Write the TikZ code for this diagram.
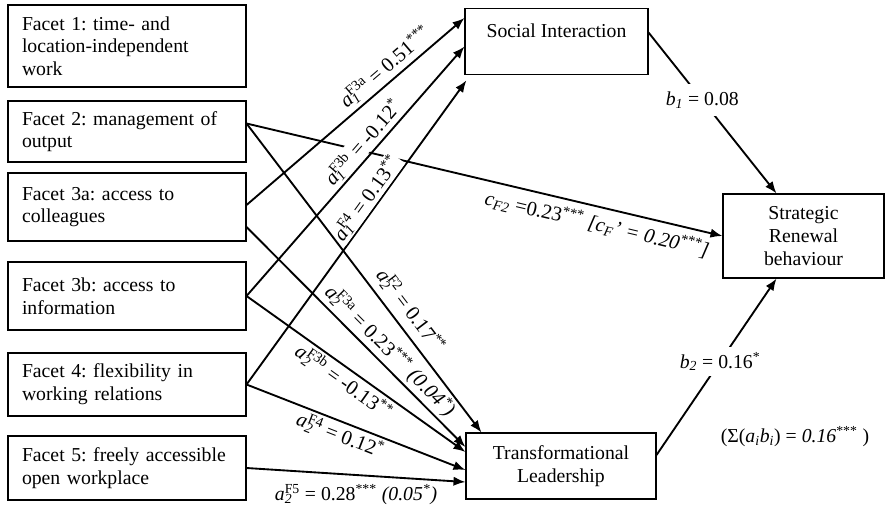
\documentclass[tikz,border=0pt]{standalone}
\usepackage{fontspec}
\setmainfont{Liberation Serif}
\usetikzlibrary{arrows.meta,calc}
\newcommand\coef[3]{\textit{#1}\rlap{\textsubscript{\textit{#2}}}\textsuperscript{#3}}
\newcommand\sig[1]{\textsuperscript{#1}}
\frenchspacing
\begin{document}
\begin{tikzpicture}[x=0.75pt,y=-0.75pt,
    every node/.style={font=\fontsize{14.8}{17}\selectfont},
    facet/.style={draw,line width=0.8pt,text width=157.5pt,align=left,inner xsep=10.5pt,inner ysep=0pt},
    box/.style={draw,line width=0.8pt,align=center,inner sep=0pt},
    link/.style={line width=1.4pt,-{Latex[length=9pt,width=7pt]}},
    lab/.style={sloped,inner sep=1pt,font=\fontsize{15.4}{17}\selectfont},
    labw/.style={lab,fill=white}]
  \useasboundingbox (0,0) rectangle (885,507);
  % facets
  \node[facet,minimum height=61.5pt] (f1) at (127,46) {Facet 1: time- and\\location-independent\\work};
  \node[facet,minimum height=45.75pt] (f2) at (127,131.5) {Facet 2: management of\\output};
  \node[facet,minimum height=51pt] (f3a) at (127,207) {Facet 3a: access to\\colleagues};
  \node[facet,minimum height=51pt] (f3b) at (127,296) {Facet 3b: access to\\information};
  \node[facet,minimum height=47.25pt] (f4) at (127,384.5) {Facet 4: flexibility in\\working relations};
  \node[facet,minimum height=48pt] (f5) at (127,468) {Facet 5: freely accessible\\open workplace};
  % mediators and outcome
  \node[box,minimum width=137.25pt,minimum height=50pt,text height=10pt,text depth=16pt] (si) at (556.5,41.5) {Social Interaction};
  \node[box,minimum width=142.5pt,minimum height=49.5pt] (tl) at (561,466) {Transformational\\Leadership};
  \node[box,minimum width=120.75pt,minimum height=63pt] (srb) at (803.5,236) {Strategic\\Renewal\\behaviour};
  % direct path
  \draw[link] ($(f2.east)+(0,-8)$) -- (srb.west)
    node[lab,pos=0.745,below=4pt] {\textit{c}\textsubscript{\textit{F2}} =0.23\sig{***} \textit{[c\textsubscript{F}' = 0.20\sig{***}]}};
  % a1 paths
  \draw[link] ($(f3a.east)+(0,-2)$) -- ($(si.west)+(0,-23.5)$)
    node[labw,pos=0.68,above=2pt] {\coef{a}{1}{F3a} = 0.51\sig{***}};
  \draw[link] (f3b.east) -- ($(si.west)+(0,5)$)
    node[labw,pos=0.58,above=1pt] {\coef{a}{1}{F3b} = -0.12\sig{*}};
  \draw[link] (f4.east) -- ($(si.south west)+(2,5)$)
    node[labw,pos=0.59,above=0pt] {\coef{a}{1}{F4} = 0.13\sig{**}};
  % a2 paths
  \draw[link] ($(f2.east)+(0,-8)$) -- ($(tl.north west)+(16,0)$)
    node[lab,pos=0.64,above=4pt] {\coef{a}{2}{F2} = 0.17\sig{**}};
  \draw[link] ($(f3a.east)+(0,20)$) -- ($(tl.west)+(0,-19)$)
    node[lab,pos=0.61,above=1pt] {\coef{a}{2}{F3a} = 0.23\sig{***} \textit{(0.04\sig{*})}};
  \draw[link] (f3b.east) -- ($(tl.west)+(0,-14)$)
    node[lab,pos=0.48,below=1pt] {\coef{a}{2}{F3b} = -0.13\sig{**}};
  \draw[link] (f4.east) -- ($(tl.west)+(0,4)$)
    node[lab,pos=0.45,below=1pt] {\coef{a}{2}{F4} = 0.12\sig{*}};
  \draw[link] (f5.east) -- ($(tl.west)+(0,16)$)
    node[pos=0.5,below=3pt] {\coef{a}{2}{F5} = 0.28\sig{***} \textit{(0.05\sig{*})}};
  % b paths
  \draw[link] ($(si.east)+(0,-9)$) -- ($(srb.north)+(-27,0)$)
    node[fill=white,inner sep=6pt,pos=0.42] {\textit{b\textsubscript{1}} = 0.08};
  \draw[link] ($(tl.east)+(0,-11)$) -- ($(srb.south)+(-27,0)$)
    node[fill=white,inner sep=4pt,pos=0.53] {\textit{b\textsubscript{2}} = 0.16\sig{*}};
  \node (ind) at (795,437) {(Σ(\textit{a\textsubscript{i}b\textsubscript{i}}) = \textit{0.16}\sig{***} )};
\end{tikzpicture}
\end{document}
